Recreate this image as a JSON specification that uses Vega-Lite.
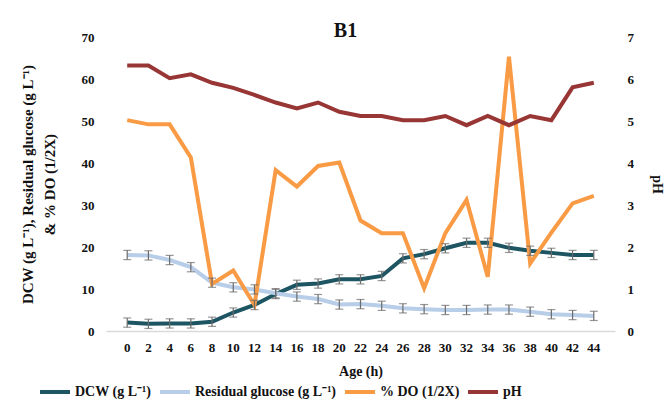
{
  "$schema": "https://vega.github.io/schema/vega-lite/v6.json",
  "width": 509,
  "height": 294,
  "autosize": {"type": "none"},
  "padding": {"left": 106, "top": 37, "right": 50, "bottom": 72},
  "background": "white",
  "title": {"text": "B1", "font": "Liberation Serif", "fontSize": 20, "fontWeight": "bold", "color": "#111", "dx": -15, "offset": -10},
  "config": {
    "view": {"stroke": null},
    "font": "Liberation Serif",
    "axis": {"labelFont": "Liberation Serif", "labelFontWeight": "bold", "labelFontSize": 13, "labelColor": "#111", "titleFont": "Liberation Serif", "titleFontWeight": "bold", "titleFontSize": 14, "titleColor": "#111", "grid": false, "ticks": false, "domain": false}
  },
  "data": {"values": [
    {"t":0,"s":"DCW (g L⁻¹)","v":2.0,"e":1.1},{"t":2,"s":"DCW (g L⁻¹)","v":1.7,"e":1.1},{"t":4,"s":"DCW (g L⁻¹)","v":1.8,"e":1.1},{"t":6,"s":"DCW (g L⁻¹)","v":1.8,"e":1.1},{"t":8,"s":"DCW (g L⁻¹)","v":2.2,"e":1.1},{"t":10,"s":"DCW (g L⁻¹)","v":4.4,"e":1.1},{"t":12,"s":"DCW (g L⁻¹)","v":6.2,"e":1.1},{"t":14,"s":"DCW (g L⁻¹)","v":8.8,"e":1.1},{"t":16,"s":"DCW (g L⁻¹)","v":11.0,"e":1.1},{"t":18,"s":"DCW (g L⁻¹)","v":11.3,"e":1.1},{"t":20,"s":"DCW (g L⁻¹)","v":12.3,"e":1.1},{"t":22,"s":"DCW (g L⁻¹)","v":12.3,"e":1.1},{"t":24,"s":"DCW (g L⁻¹)","v":13.1,"e":1.1},{"t":26,"s":"DCW (g L⁻¹)","v":17.3,"e":1.1},{"t":28,"s":"DCW (g L⁻¹)","v":18.3,"e":1.1},{"t":30,"s":"DCW (g L⁻¹)","v":19.7,"e":1.1},{"t":32,"s":"DCW (g L⁻¹)","v":21.0,"e":1.1},{"t":34,"s":"DCW (g L⁻¹)","v":21.0,"e":1.1},{"t":36,"s":"DCW (g L⁻¹)","v":19.8,"e":1.1},{"t":38,"s":"DCW (g L⁻¹)","v":19.1,"e":1.1},{"t":40,"s":"DCW (g L⁻¹)","v":18.6,"e":1.1},{"t":42,"s":"DCW (g L⁻¹)","v":18.1,"e":1.1},{"t":44,"s":"DCW (g L⁻¹)","v":18.1,"e":1.1},
    {"t":0,"s":"Residual glucose (g L⁻¹)","v":18.1,"e":1.1},{"t":2,"s":"Residual glucose (g L⁻¹)","v":18.0,"e":1.1},{"t":4,"s":"Residual glucose (g L⁻¹)","v":16.9,"e":1.1},{"t":6,"s":"Residual glucose (g L⁻¹)","v":15.2,"e":1.1},{"t":8,"s":"Residual glucose (g L⁻¹)","v":11.5,"e":1.1},{"t":10,"s":"Residual glucose (g L⁻¹)","v":10.4,"e":1.1},{"t":12,"s":"Residual glucose (g L⁻¹)","v":9.9,"e":1.1},{"t":14,"s":"Residual glucose (g L⁻¹)","v":9.0,"e":1.1},{"t":16,"s":"Residual glucose (g L⁻¹)","v":8.2,"e":1.1},{"t":18,"s":"Residual glucose (g L⁻¹)","v":7.6,"e":1.1},{"t":20,"s":"Residual glucose (g L⁻¹)","v":6.3,"e":1.1},{"t":22,"s":"Residual glucose (g L⁻¹)","v":6.4,"e":1.1},{"t":24,"s":"Residual glucose (g L⁻¹)","v":6.0,"e":1.1},{"t":26,"s":"Residual glucose (g L⁻¹)","v":5.4,"e":1.1},{"t":28,"s":"Residual glucose (g L⁻¹)","v":5.2,"e":1.1},{"t":30,"s":"Residual glucose (g L⁻¹)","v":5.0,"e":1.1},{"t":32,"s":"Residual glucose (g L⁻¹)","v":5.0,"e":1.1},{"t":34,"s":"Residual glucose (g L⁻¹)","v":5.1,"e":1.1},{"t":36,"s":"Residual glucose (g L⁻¹)","v":5.1,"e":1.1},{"t":38,"s":"Residual glucose (g L⁻¹)","v":4.6,"e":1.1},{"t":40,"s":"Residual glucose (g L⁻¹)","v":4.0,"e":1.1},{"t":42,"s":"Residual glucose (g L⁻¹)","v":3.8,"e":1.1},{"t":44,"s":"Residual glucose (g L⁻¹)","v":3.6,"e":1.1},
    {"t":0,"s":"% DO (1/2X)","v":50.2},{"t":2,"s":"% DO (1/2X)","v":49.2},{"t":4,"s":"% DO (1/2X)","v":49.2},{"t":6,"s":"% DO (1/2X)","v":41.3},{"t":8,"s":"% DO (1/2X)","v":11.2},{"t":10,"s":"% DO (1/2X)","v":14.4},{"t":12,"s":"% DO (1/2X)","v":6.2},{"t":14,"s":"% DO (1/2X)","v":38.3},{"t":16,"s":"% DO (1/2X)","v":34.4},{"t":18,"s":"% DO (1/2X)","v":39.3},{"t":20,"s":"% DO (1/2X)","v":40.1},{"t":22,"s":"% DO (1/2X)","v":26.3},{"t":24,"s":"% DO (1/2X)","v":23.3},{"t":26,"s":"% DO (1/2X)","v":23.3},{"t":28,"s":"% DO (1/2X)","v":10.2},{"t":30,"s":"% DO (1/2X)","v":23.3},{"t":32,"s":"% DO (1/2X)","v":31.2},{"t":34,"s":"% DO (1/2X)","v":12.9},{"t":36,"s":"% DO (1/2X)","v":65.3},{"t":38,"s":"% DO (1/2X)","v":16.1},{"t":40,"s":"% DO (1/2X)","v":23.4},{"t":42,"s":"% DO (1/2X)","v":30.4},{"t":44,"s":"% DO (1/2X)","v":32.2},
    {"t":0,"s":"pH","v":6.32},{"t":2,"s":"pH","v":6.32},{"t":4,"s":"pH","v":6.02},{"t":6,"s":"pH","v":6.11},{"t":8,"s":"pH","v":5.91},{"t":10,"s":"pH","v":5.79},{"t":12,"s":"pH","v":5.62},{"t":14,"s":"pH","v":5.44},{"t":16,"s":"pH","v":5.30},{"t":18,"s":"pH","v":5.44},{"t":20,"s":"pH","v":5.22},{"t":22,"s":"pH","v":5.12},{"t":24,"s":"pH","v":5.12},{"t":26,"s":"pH","v":5.02},{"t":28,"s":"pH","v":5.02},{"t":30,"s":"pH","v":5.12},{"t":32,"s":"pH","v":4.90},{"t":34,"s":"pH","v":5.12},{"t":36,"s":"pH","v":4.90},{"t":38,"s":"pH","v":5.12},{"t":40,"s":"pH","v":5.02},{"t":42,"s":"pH","v":5.80},{"t":44,"s":"pH","v":5.91}
  ]},
  "encoding": {
    "x": {"field": "t", "type": "ordinal", "title": "Age (h)", "scale": {"paddingOuter": 0.5}, "axis": {"labelAngle": 0, "domain": true, "domainColor": "#d9d9d9", "domainWidth": 1.5, "labelPadding": 10, "titlePadding": 10}}
  },
  "layer": [
    {
      "encoding": {
        "y": {"field": "v", "type": "quantitative", "scale": {"domain": [0, 70]}, "axis": {"values": [0,10,20,30,40,50,60,70], "title": ["DCW (g L⁻¹), Residual glucose (g L⁻¹)", "& % DO (1/2X)"], "titleFontSize": 15, "titleLineHeight": 22, "labelPadding": 12, "titlePadding": 24}}
      },
      "layer": [
        {
          "transform": [{"filter": "datum.s !== 'pH'"}],
          "mark": {"type": "line", "strokeWidth": 4},
          "encoding": {
            "color": {"field": "s", "type": "nominal"},
            "detail": {"field": "s"}
          }
        },
        {
          "transform": [{"filter": "datum.e > 0"}],
          "mark": {"type": "errorbar", "ticks": {"size": 8, "color": "#6b6b6b"}, "color": "#6b6b6b", "thickness": 1.2},
          "encoding": {
            "yError": {"field": "e"}
          }
        }
      ]
    },
    {
      "transform": [{"filter": "datum.s === 'pH'"}],
      "mark": {"type": "line", "strokeWidth": 4},
      "encoding": {
        "y": {"field": "v", "type": "quantitative", "scale": {"domain": [0, 7]}, "axis": {"orient": "right", "values": [0,1,2,3,4,5,6,7], "title": "pH", "labelPadding": 12, "titlePadding": 16}},
        "color": {"field": "s", "type": "nominal",
          "scale": {"domain": ["DCW (g L⁻¹)", "Residual glucose (g L⁻¹)", "% DO (1/2X)", "pH"], "range": ["#1d5562", "#b7cde8", "#f99a45", "#973634"]},
          "legend": {"orient": "none", "legendX": -68, "legendY": 338, "direction": "horizontal", "title": null, "symbolType": "stroke", "symbolStrokeWidth": 4, "symbolSize": 900, "labelFont": "Liberation Serif", "labelFontWeight": "bold", "labelFontSize": 14, "labelColor": "#111", "columnPadding": 0, "labelOffset": 3}}
      }
    }
  ],
  "resolve": {"scale": {"y": "independent", "color": "shared"}}
}
